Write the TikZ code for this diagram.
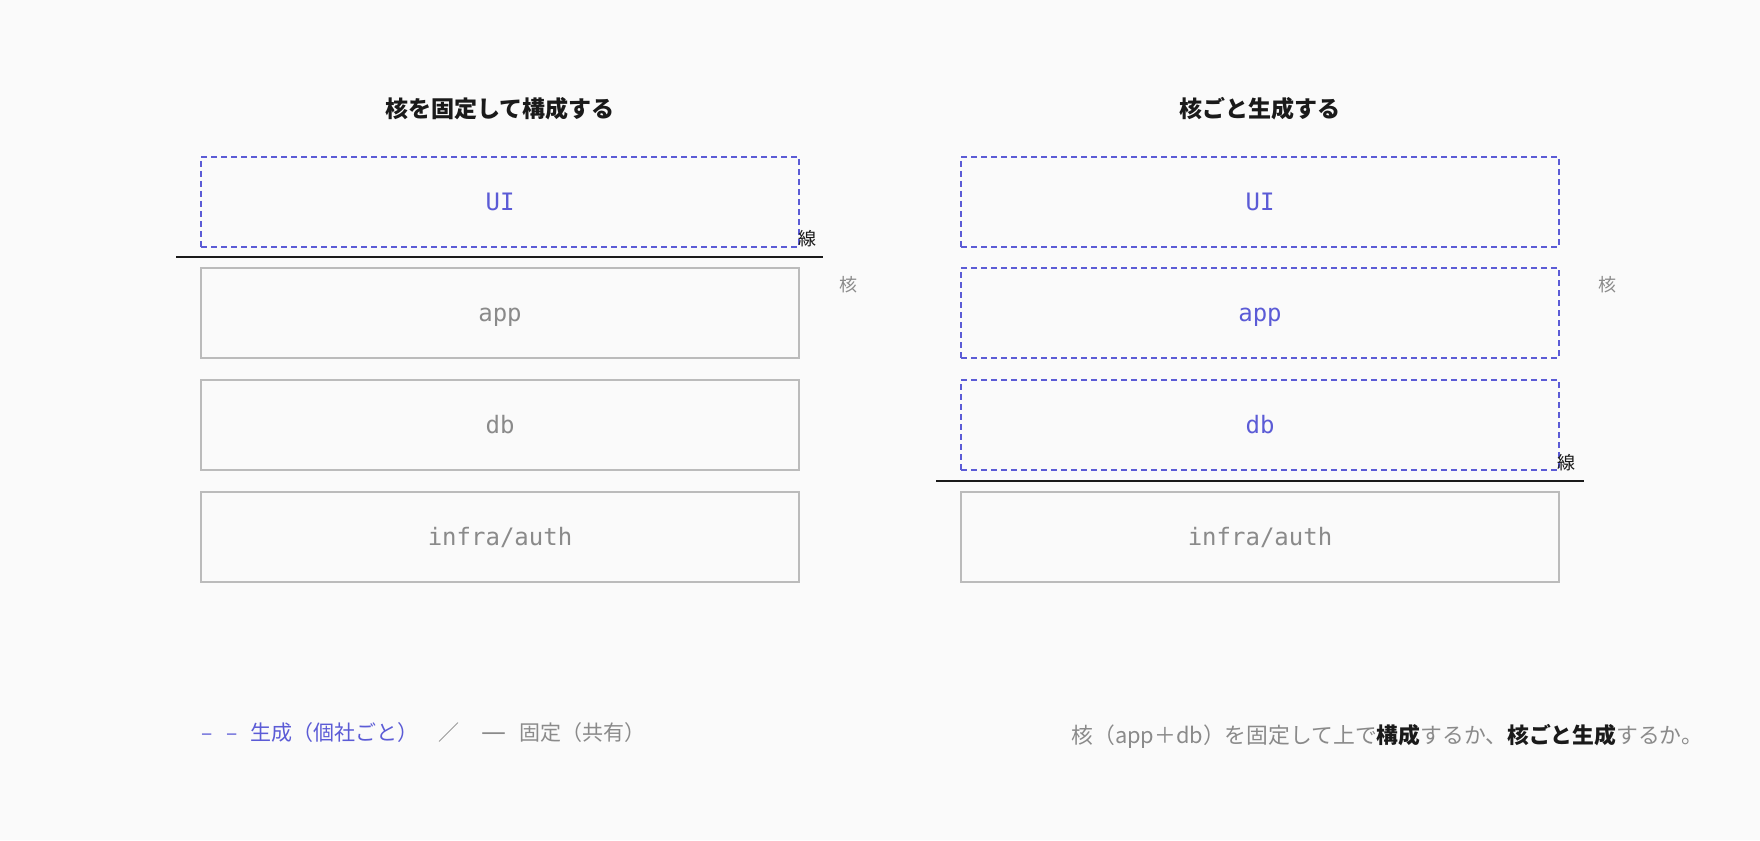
\documentclass[tikz,border=0pt]{standalone}
\usepackage{fontspec}
\setmainfont{Noto Sans CJK JP}
\newfontfamily\boxmono{DejaVu Sans Mono}
\newfontfamily\dashfont{DejaVu Sans}
\definecolor{bg}{HTML}{FAFAFA}
\definecolor{gen}{HTML}{5B5BD6}
\definecolor{fixline}{HTML}{BBBBBB}
\definecolor{fixtext}{HTML}{8A8A8A}
\definecolor{ink}{HTML}{1A1A1A}

\begin{document}
\begin{tikzpicture}[x=1pt, y=-1pt,
  every node/.style={inner sep=0pt, outer sep=0pt},
  layer/.style={rectangle, minimum width=598pt, minimum height=90pt, line width=2pt,
    text height=17.5pt, text depth=0pt, font=\boxmono\fontsize{24}{28}\selectfont},
  gen/.style={layer, draw=gen, text=gen, dash pattern=on 6pt off 4pt},
  fix/.style={layer, draw=fixline, text=fixtext},
  title/.style={text=ink, font=\bfseries\fontsize{23}{27}\selectfont},
  sen/.style={text=ink, font=\fontsize{18}{20}\selectfont},
  kaku/.style={text=fixtext, font=\fontsize{18}{20}\selectfont},
  note/.style={font=\fontsize{21}{24}\selectfont}]
  \fill[bg] (0,0) rectangle (1760,840);

  \node (t1) [title] at (500, 109) {核を固定して構成する};
  \node (ui1) [gen] at (500, 202) {UI};
  \node (app1) [fix] at (500, 313) {app};
  \node (db1) [fix] at (500, 425) {db};
  \node (inf1) [fix] at (500, 537) {infra/auth};
  \coordinate (s1a) at (176, 257);
  \coordinate (s1b) at (823, 257);
  \draw[ink, line width=2pt] (s1a) -- (s1b);
  \node (sen1) [sen] at (807, 239) {線};
  \node (k1) [kaku] at (848, 285) {核};

  \node (t2) [title] at (1260, 109) {核ごと生成する};
  \node (ui2) [gen] at (1260, 202) {UI};
  \node (app2) [gen] at (1260, 313) {app};
  \node (db2) [gen] at (1260, 425) {db};
  \node (inf2) [fix] at (1260, 537) {infra/auth};
  \coordinate (s2a) at (936, 481);
  \coordinate (s2b) at (1584, 481);
  \draw[ink, line width=2pt] (s2a) -- (s2b);
  \node (sen2) [sen] at (1566, 463) {線};
  \node (k2) [kaku] at (1607, 285) {核};

  \node (lgen) [note, text=gen, anchor=west] at (201, 733) {–\hspace{14pt}–\hspace{13pt}生成（個社ごと）};
  \node (lsep) [note, text=fixtext] at (449, 733) {／};
  \node (lfix) [note, text=fixtext, anchor=west] at (481, 733) {{\dashfont\fontsize{25}{25}\selectfont —}\hspace{13pt}固定（共有）};

  \node (cap) [note, text=fixtext, anchor=east, font=\fontsize{21.8}{24}\selectfont] at (1703, 736)
    {核（app＋db）を固定して上で{\bfseries\color{ink}構成}するか、{\bfseries\color{ink}核ごと生成}するか。};
\end{tikzpicture}
\end{document}
